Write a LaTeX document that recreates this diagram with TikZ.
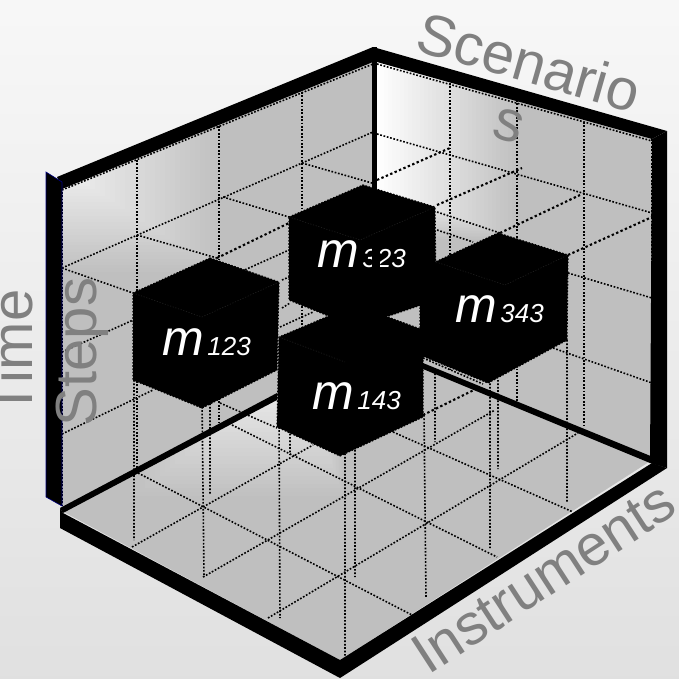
\documentclass[tikz,border=0pt]{standalone}
\usepackage{fontspec}
\setmainfont{Liberation Sans}
\begin{document}
\begin{tikzpicture}[x=1pt,y=-1pt,
  grid/.style={black,line width=1.6pt,dash pattern=on 1.7pt off 1.7pt},
  gridb/.style={black,line width=2.1pt,dash pattern=on 2.4pt off 2.4pt},
  cube/.style={fill=black,draw=black,line width=1.2pt,dash pattern=on 1.6pt off 1.6pt},
  faint/.style={black!88,line width=0.6pt,dash pattern=on 1.2pt off 1.6pt},
  axislabel/.style={text=black!50,font=\fontsize{58}{66}\selectfont,inner sep=0pt},
  mlabel/.style={text=white,inner sep=0pt,anchor=base west,font=\itshape\fontsize{50}{50}\selectfont}]
\useasboundingbox (0,0) rectangle (679,678);
\shade[top color=black!3,bottom color=black!12] (0,0) rectangle (679,678);
% walls and floor
\begin{scope}
\clip (62,185) -- (373,62) -- (373,400) -- (62,510) -- cycle;
\fill[black!25] (0,0) rectangle (400,520);
\foreach \k in {0,...,30}{
 \pgfmathsetmacro\c{25-\k*0.6}
 \fill[black!\c] (40,100) rectangle ({225-\k*5},{275-\k*3.3});}
\end{scope}
\begin{scope}
\clip (377,62) -- (652,139) -- (652,460) -- (377,345) -- cycle;
\fill[black!25] (370,50) rectangle (660,470);
\foreach \k in {0,...,35}{
 \pgfmathsetmacro\c{25-\k*0.71}
 \fill[black!\c] (370,50) rectangle ({520-\k*4},{240-\k*1.5});}
\end{scope}
\begin{scope}
\clip (60,510) -- (375,345) -- (652,460) -- (340,660) -- cycle;
\fill[black!25] (50,340) rectangle (660,670);
\foreach \k in {0,...,30}{
 \pgfmathsetmacro\c{25-\k*0.62}
 \fill[black!\c] ({130+\k*5},340) rectangle ({345-\k*1.5},{500-\k*4});}
\end{scope}
% wall grid
\draw[grid] (137,160)--(137,470) (219,126)--(219,423) (302,92)--(302,340)
 (450,83)--(450,370) (517,100)--(517,405) (584,122)--(584,427);
\draw[grid] (62,185)--(62,506) (652,139)--(652,458);
\draw[grid] (62,190)--(373,64) (377,64)--(652,141);
\draw[grid] (62,268)--(373,132) (62,352)--(289,250) (62,434)--(153,390);
\draw[grid] (377,134)--(652,213) (437,230)--(473,242) (568,273)--(652,298) (553,348)--(652,383);
% mid layers
\draw[grid] (62,268)--(133,293) (137,235)--(217,258) (223,197)--(289,217) (302,163)--(372,183);
\draw[gridb] (217,258)--(289,223) (377,180)--(450,148) (437,205)--(522,168) (500,233)--(580,195) (568,255)--(652,217);
\draw[grid] (437,212)--(500,233) (282,280)--(289,277) (282,308)--(290,303) (280,327)--(313,312);
% floor grid
\draw[grid] (134,380)--(134,540) (202,400)--(204,577) (210,400)--(210,495)
 (279,420)--(280,618) (290,420)--(290,455) (345,450)--(345,657) (355,450)--(355,577)
 (424,415)--(426,597) (435,370)--(435,442) (490,380)--(490,548) (498,380)--(498,469) (567,340)--(567,503);
\draw[grid] (138,473)--(412,615) (232,425)--(497,557) (220,403)--(277,428) (393,432)--(573,512);
\draw[grid] (132,547)--(313,445) (203,577)--(495,410) (268,618)--(578,433);
\draw[gridb] (423,415)--(480,387);
\draw[grid] (423,358)--(483,384);
% cubes
\path[cube] (289,217)--(363,185)--(435,207)--(436,300)--(356,327)--(289,300)--cycle;
\draw[faint] (289,217)--(360,240)--(435,207);
\path[cube] (498,233)--(568,255)--(567,340)--(488,383)--(420,355)--(420,269)--cycle;
\draw[faint] (436,262)--(505,285)--(568,255);
\path[cube] (210,258)--(279,282)--(277,370)--(202,408)--(133,380)--(133,293)--cycle;
\draw[faint] (133,293)--(202,317)--(279,282);
\path[cube] (355,305)--(423,330)--(423,417)--(340,456)--(277,427)--(279,337)--cycle;
\draw[faint] (279,337)--(345,362);
% frame
\fill (60,508)--(277,393)--(277,400)--(63,513)--cycle;
\fill (423,363)--(653,457)--(650,463)--(423,369)--cycle;
\fill (57,177)--(373,47)--(373,62)--(62,189)--cycle;
\fill (373,47)--(667,131)--(652,139)--(377,62)--cycle;
\fill (372,47)--(377,47)--(377,190)--(372,190)--cycle;
\fill (667,131)--(667,468)--(650,463)--(652,139)--cycle;
\fill (60,508)--(63,513)--(340,660)--(652,463)--(667,468)--(340,678)--(60,528)--cycle;
\filldraw[draw={rgb,255:red,0;green,0;blue,128},fill=black,line width=0.6pt] (46,172)--(62,182)--(62,506)--(46,497)--cycle;
% cube labels
\node[mlabel] (m1) at (162,355) {m\kern3.5pt\fontsize{26}{26}\selectfont 123};
\node[mlabel] (m2) at (317,267) {m\kern3.5pt\fontsize{26}{26}\selectfont 323};
\fill (372,240) rectangle (380,272);
\node[mlabel] (m3) at (455,322) {m\kern3.5pt\fontsize{26}{26}\selectfont 343};
\node[mlabel] (m4) at (312,409) {m\kern3.5pt\fontsize{26}{26}\selectfont 143};
% axis labels
\node[axislabel,anchor=base west,rotate=-16] (sc) at (413,50) {Scenario};
\node[axislabel,anchor=base west,rotate=-16] (sc2) at (490,136) {s};
\node[axislabel,anchor=base,rotate=90] (ti) at (32,353) {Time};
\node[axislabel,anchor=base,rotate=90] (st) at (96,352) {Steps};
\node[axislabel,anchor=base west,rotate=33,font=\fontsize{57.5}{66}\selectfont] (in) at (428,676) {Instruments};
\end{tikzpicture}
\end{document}
